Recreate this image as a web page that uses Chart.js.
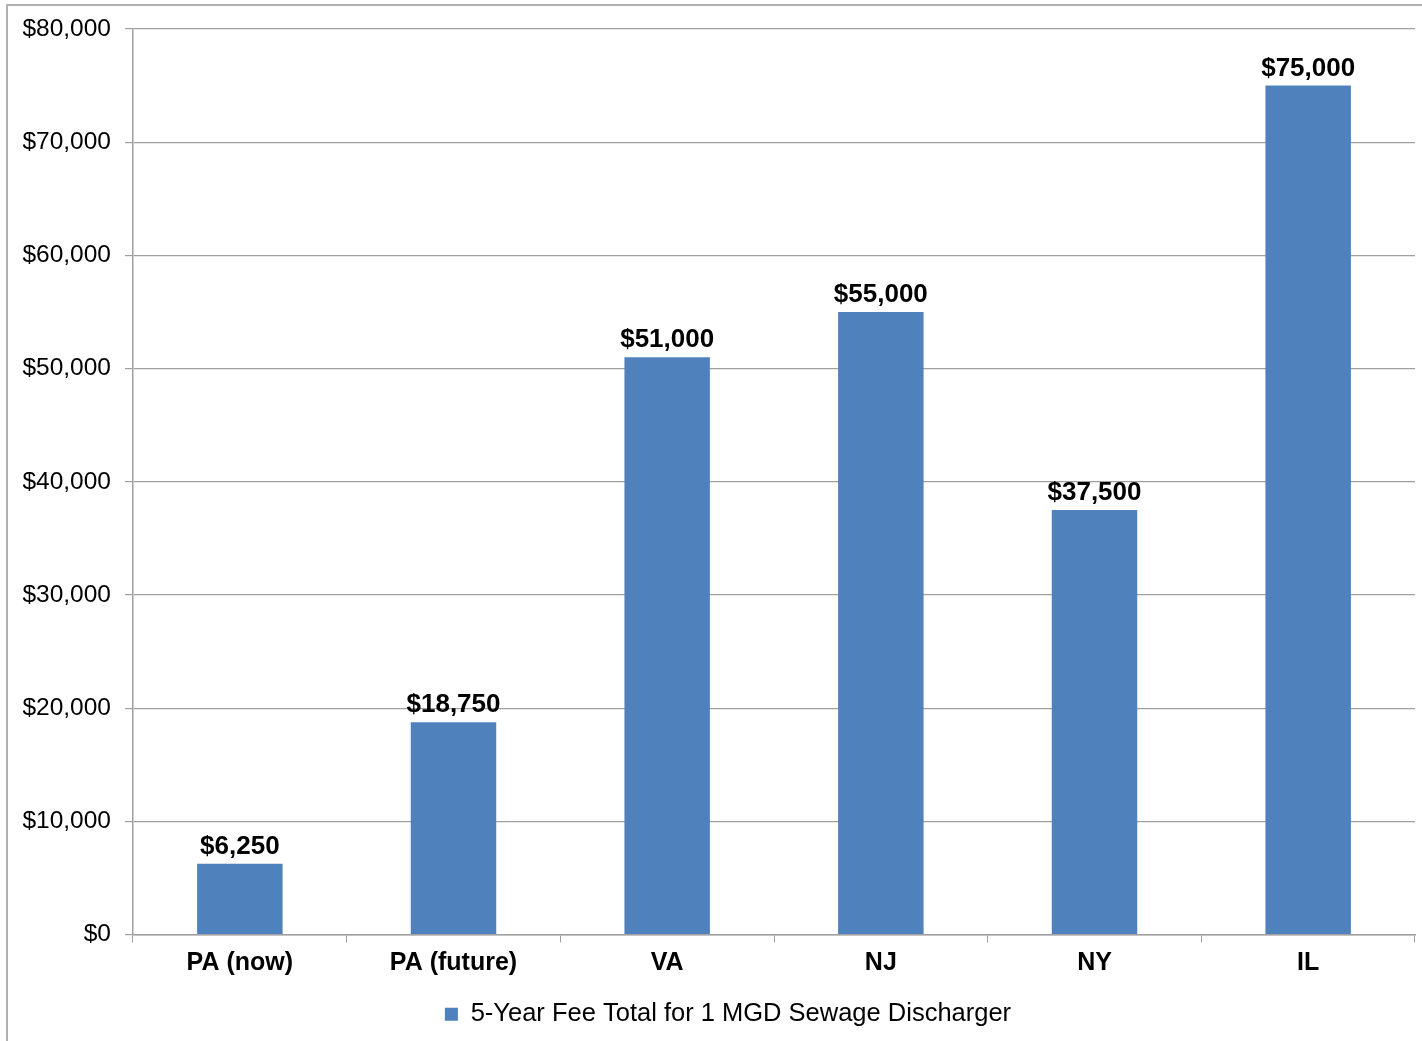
<!DOCTYPE html>
<html>
<head>
<meta charset="utf-8">
<script src="https://cdn.jsdelivr.net/npm/chart.js@4.4.1/dist/chart.umd.min.js"></script>
<style>
  html, body { margin: 0; padding: 0; background: #fff; }
  #wrap { width: 1422px; height: 1041px; position: relative; }
</style>
</head>
<body>
<div id="wrap"><canvas id="feeChart" width="1422" height="1041"></canvas></div>
<script>
const categories = ['PA (now)', 'PA (future)', 'VA', 'NJ', 'NY', 'IL'];
const feeTotals = [6250, 18750, 51000, 55000, 37500, 75000];
const seriesName = '5-Year Fee Total for 1 MGD Sewage Discharger';
const yMax = 80000;
const yStep = 10000;

const money = v => '$' + v.toLocaleString('en-US');

// outer frame of the chart (left and top edges show in the picture)
const framePlugin = {
    id: 'frame',
    afterLayout(chart) {
        // legend sits a bit right of the canvas centre in the original
        chart.legend.left += 17;
        chart.legend.right += 17;
    },
    beforeDraw(chart) {
        const ctx = chart.ctx;
        ctx.save();
        ctx.strokeStyle = '#b0b0b0';
        ctx.lineWidth = 2;
        ctx.beginPath();
        ctx.moveTo(7, chart.height);
        ctx.lineTo(7, 5);
        ctx.lineTo(chart.width, 5);
        ctx.stroke();
        ctx.restore();
    }
};

// value labels above each bar
const valueLabels = {
    id: 'valueLabels',
    afterDatasetsDraw(chart) {
        const ctx = chart.ctx;
        const meta = chart.getDatasetMeta(0);
        ctx.save();
        ctx.font = 'bold 26px "Liberation Sans", Arial, sans-serif';
        ctx.fillStyle = '#000';
        ctx.textAlign = 'center';
        ctx.textBaseline = 'bottom';
        meta.data.forEach((bar, i) => {
            ctx.fillText(money(feeTotals[i]), bar.x, bar.y - 4);
        });
        ctx.restore();
    }
};

const ctx = document.getElementById('feeChart').getContext('2d');
new Chart(ctx, {
    type: 'bar',
    data: {
        labels: categories,
        datasets: [{
            label: seriesName,
            data: feeTotals,
            backgroundColor: '#4F81BD',
            borderWidth: 0,
            categoryPercentage: 0.8,
            barPercentage: 0.5
        }]
    },
    options: {
        responsive: false,
        animation: false,
        layout: { padding: { left: 7, top: 29, right: 7, bottom: 4 } },
        plugins: {
            tooltip: { enabled: false },
            legend: {
                position: 'bottom',
                labels: {
                    boxWidth: 13,
                    boxHeight: 13,
                    padding: 8,
                    color: '#000',
                    font: { family: '"Liberation Sans", Arial, sans-serif', size: 25.5 }
                }
            }
        },
        scales: {
            x: {
                offset: true,
                afterFit(scale) { scale.height = 59; },
                grid: {
                    offset: true,
                    drawOnChartArea: false,
                    tickLength: 8,
                    color: '#a0a0a0'
                },
                border: { color: '#a0a0a0', width: 1.5 },
                ticks: {
                    color: '#000',
                    padding: 6,
                    font: { family: '"Liberation Sans", Arial, sans-serif', size: 25, weight: 'bold' }
                }
            },
            y: {
                min: 0,
                max: yMax,
                afterFit(scale) { scale.width = 126; },
                grid: {
                    color: '#a0a0a0',
                    lineWidth: 1.2,
                    tickLength: 8
                },
                border: { color: '#a0a0a0', width: 1.5 },
                ticks: {
                    stepSize: yStep,
                    color: '#000',
                    padding: 14,
                    font: { family: '"Liberation Sans", Arial, sans-serif', size: 24.5 },
                    callback: v => money(v)
                }
            }
        }
    },
    plugins: [framePlugin, valueLabels]
});
</script>
</body>
</html>
